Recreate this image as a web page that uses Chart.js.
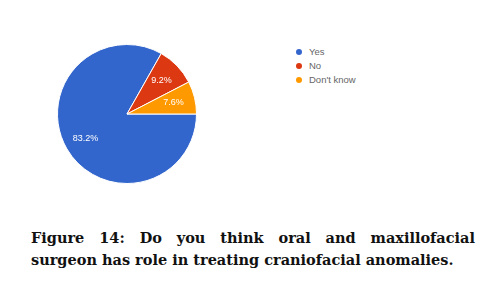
<!DOCTYPE html>
<html>
<head>
<meta charset="utf-8">
<script src="https://cdn.jsdelivr.net/npm/chart.js@4/dist/chart.umd.min.js"></script>
<style>
  html, body { margin: 0; padding: 0; background: #fff; }
  body { width: 496px; height: 287px; position: relative; overflow: hidden; }
  #pieWrap { position: absolute; left: 57px; top: 44px; width: 140px; height: 140px; }
  #legenda { position: absolute; left: 296px; top: 45px; font-family: "Liberation Sans", Arial, sans-serif; font-size: 9.5px; color: #666; }
  #legenda div { height: 14px; line-height: 14px; white-space: nowrap; }
  #legenda span.bolinha { display: inline-block; width: 6px; height: 6px; border-radius: 50%; margin-right: 7px; vertical-align: middle; }
  #legenda span.txt { vertical-align: middle; }
  #caption { position: absolute; left: 31px; top: 227px; width: 444px;
    font-family: "DejaVu Serif", serif; font-weight: bold; font-size: 14.5px; line-height: 22px;
    color: #111; text-align: justify; text-align-last: left; }
</style>
</head>
<body>
<div id="pieWrap"><canvas id="chartPapel"></canvas></div>
<div id="legenda"></div>
<div id="caption">Figure 14: Do you think oral and maxillofacial surgeon has role in treating craniofacial anomalies.</div>
<script>
// dados da pesquisa (Figura 14)
const categorias = ['Yes', 'No', "Don't know"];
const percentuais = [83.2, 9.2, 7.6];
const cores = ['#3366cc', '#dc3912', '#ff9900'];

// legenda em HTML, montada a partir dos arrays
const legenda = document.getElementById('legenda');
categorias.forEach((cat, i) => {
    const linha = document.createElement('div');
    linha.innerHTML = '<span class="bolinha" style="background:' + cores[i] + '"></span><span class="txt"></span>';
    linha.querySelector('.txt').textContent = cat;
    legenda.appendChild(linha);
});

// rótulos de porcentagem dentro das fatias
const rotulosFatias = {
    id: 'rotulosFatias',
    afterDatasetsDraw(chart) {
        const ctx = chart.ctx;
        const meta = chart.getDatasetMeta(0);
        ctx.save();
        ctx.fillStyle = '#ffffff';
        ctx.font = '9px "Liberation Sans", Arial, sans-serif';
        ctx.textAlign = 'center';
        ctx.textBaseline = 'middle';
        meta.data.forEach((arco, i) => {
            const p = arco.getProps(['x', 'y', 'startAngle', 'endAngle', 'outerRadius'], true);
            const meio = (p.startAngle + p.endAngle) / 2;
            const r = p.outerRadius * 0.69;
            ctx.fillText(percentuais[i].toFixed(1) + '%', p.x + Math.cos(meio) * r, p.y + Math.sin(meio) * r);
        });
        ctx.restore();
    }
};

const ctx = document.getElementById('chartPapel');
new Chart(ctx, {
    type: 'pie',
    data: {
        labels: categorias,
        datasets: [{
            data: percentuais,
            backgroundColor: cores,
            borderColor: '#ffffff',
            borderWidth: 1
        }]
    },
    options: {
        responsive: true,
        maintainAspectRatio: false,
        animation: false,
        rotation: 90,
        layout: { padding: 0 },
        plugins: {
            legend: { display: false },
            tooltip: { enabled: false },
            title: { display: false }
        }
    },
    plugins: [rotulosFatias]
});
</script>
</body>
</html>
